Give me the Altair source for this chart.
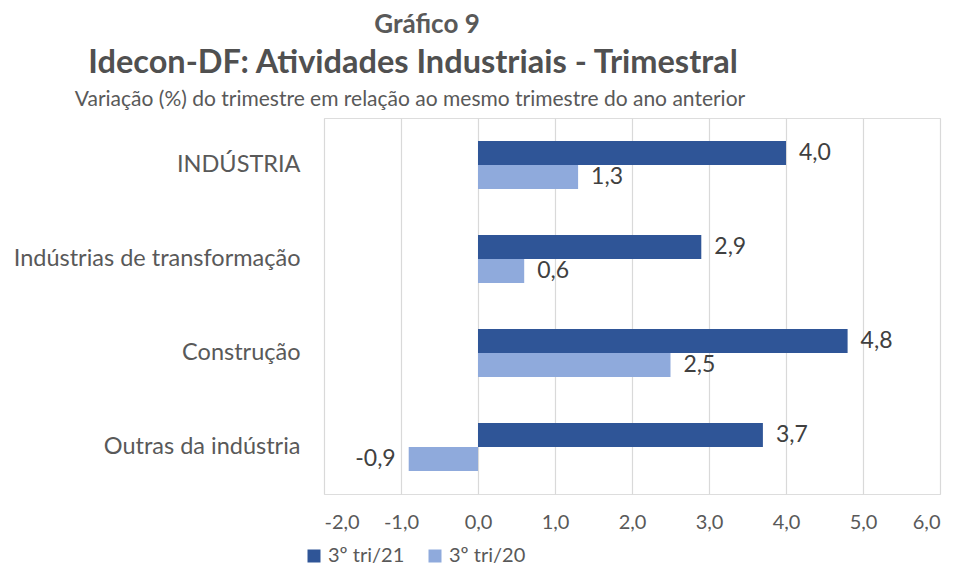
import altair as alt
import pandas as pd

categories = ["INDÚSTRIA", "Indústrias de transformação", "Construção", "Outras da indústria"]
series = ["3º tri/21", "3º tri/20"]
values_21 = [4.0, 2.9, 4.8, 3.7]
values_20 = [1.3, 0.6, 2.5, -0.9]
x_ticks = [-2, -1, 0, 1, 2, 3, 4, 5, 6]

title_top = "Gráfico 9"
title_main = "Idecon-DF: Atividades Industriais - Trimestral"
title_sub = "Variação (%) do trimestre em relação ao mesmo trimestre do ano anterior"

DARK = "#2F5597"
LIGHT = "#8FAADC"
TXT = "#595959"
FONT = "Lato"

rows = []
for c, a, b in zip(categories, values_21, values_20):
    rows.append({"cat": c, "serie": series[0], "v": a})
    rows.append({"cat": c, "serie": series[1], "v": b})
df = pd.DataFrame(rows)

label_expr = "(datum.v < 0 ? '-' : '') + replace(format(abs(datum.v), '.1f'), '.', ',')"

base = alt.Chart(df).transform_calculate(lbl=label_expr)

y_enc = alt.Y("cat:N", sort=categories, title=None,
              scale=alt.Scale(paddingInner=0.49, paddingOuter=0.245),
              axis=alt.Axis(labelFontSize=23.5, labelColor=TXT, labelFont=FONT,
                            labelPadding=24, ticks=False, domain=False, grid=False,
                            labelLimit=400))
yoff = alt.YOffset("serie:N", sort=series, scale=alt.Scale(paddingInner=0, paddingOuter=0))
x_enc = alt.X("v:Q", title=None,
              scale=alt.Scale(domain=[-2, 6], nice=False, zero=False),
              axis=alt.Axis(values=x_ticks, labelFontSize=20, labelColor=TXT, labelFont=FONT,
                            labelPadding=18, ticks=False, domain=False,
                            gridColor="#D9D9D9", gridWidth=1.2,
                            labelExpr="(datum.value < 0 ? '-' : '') + replace(format(abs(datum.value), '.1f'), '.', ',')"))

bars = base.mark_bar(height={"band": 1}).encode(
    x=x_enc,
    x2=alt.datum(0),
    y=y_enc,
    yOffset=yoff,
    color=alt.Color("serie:N", sort=series,
                    scale=alt.Scale(domain=series, range=[DARK, LIGHT]),
                    legend=alt.Legend(title=None, orient="none", legendX=-20, legendY=428,
                                      direction="horizontal", symbolType="square",
                                      symbolSize=169, symbolStrokeWidth=0,
                                      labelFontSize=20, labelColor=TXT, labelFont=FONT,
                                      labelOffset=4, columnPadding=20)),
)

pos_labels = base.transform_filter("datum.v >= 0").mark_text(
    align="left", baseline="middle", dx=13, fontSize=23, color="#404040", font=FONT
).encode(x="v:Q", y=alt.Y("cat:N", sort=categories), yOffset=yoff, text="lbl:N")

neg_labels = base.transform_filter("datum.v < 0").mark_text(
    align="right", baseline="middle", dx=-13, fontSize=23, color="#404040", font=FONT
).encode(x="v:Q", y=alt.Y("cat:N", sort=categories), yOffset=yoff, text="lbl:N")

one = alt.Data(values=[{"k": 1}])
t1 = alt.Chart(one).mark_text(align="center", baseline="middle", fontSize=26, fontWeight="bold",
                              color=TXT, font=FONT).encode(
    x=alt.value(103), y=alt.value(-93), text=alt.value(title_top))
t2 = alt.Chart(one).mark_text(align="center", baseline="middle", fontSize=32.5, fontWeight="bold",
                              color="#505050", font=FONT).encode(
    x=alt.value(89), y=alt.value(-55), text=alt.value(title_main))
t3 = alt.Chart(one).mark_text(align="center", baseline="middle", fontSize=21,
                              color=TXT, font=FONT).encode(
    x=alt.value(86), y=alt.value(-18), text=alt.value(title_sub))

chart = alt.layer(bars, pos_labels, neg_labels, t1, t2, t3).properties(
    width=616, height=376,
    autosize=alt.AutoSizeParams(type="none"),
    padding={"left": 316, "top": 110, "right": 10, "bottom": 72},
).configure_view(stroke=None).configure(background="white")

chart.save("out.html", embed_options={"renderer": "svg", "actions": False})
